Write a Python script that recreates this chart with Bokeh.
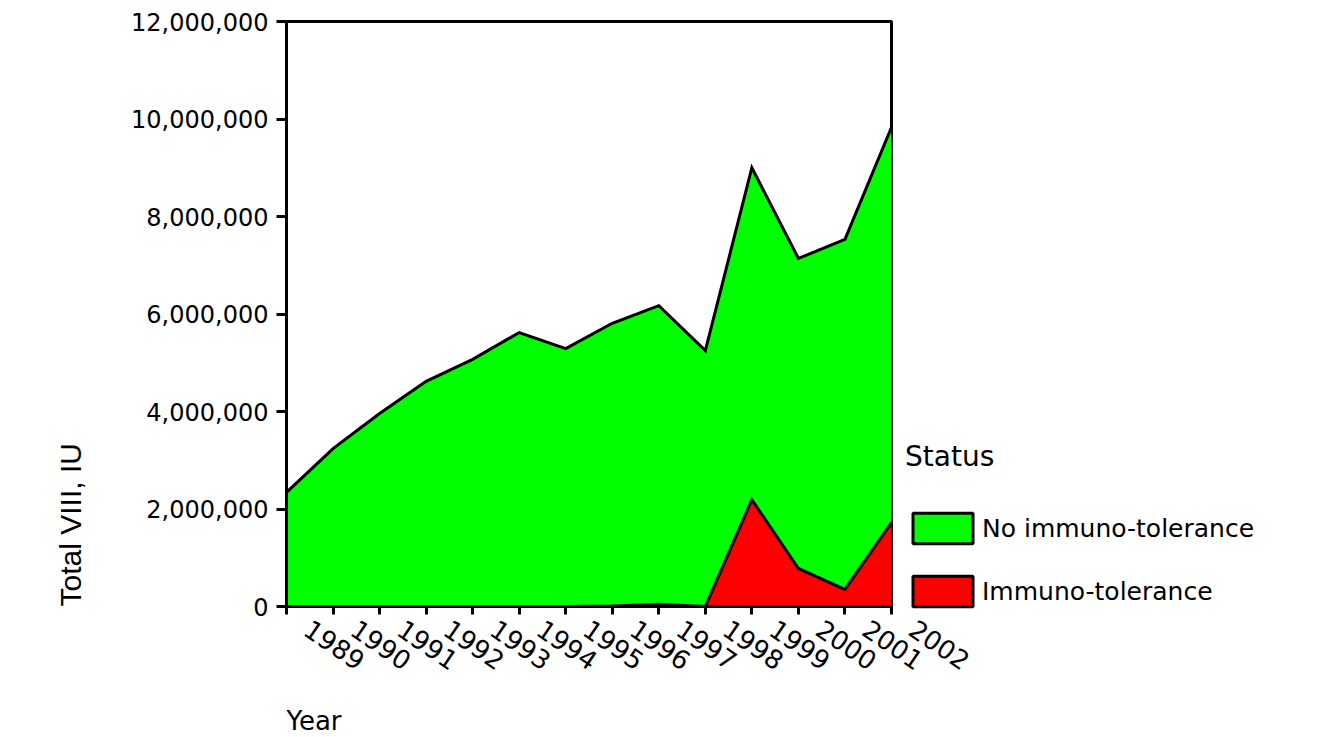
import math
from bokeh.plotting import figure
from bokeh.models import (ColumnDataSource, FixedTicker, NumeralTickFormatter,
                          Legend, LegendItem, Range1d, Title, CustomJSTickFormatter)
from bokeh.transform import stack
from bokeh.embed import file_html
from bokeh.resources import INLINE

# ---- data ----
years = [1989, 1990, 1991, 1992, 1993, 1994, 1995, 1996, 1997, 1998, 1999, 2000, 2001, 2002]
no_immuno = [2340000, 3240000, 3960000, 4620000, 5070000, 5620000, 5290000,
             5800000, 6125000, 5250000, 6810000, 6360000, 7180000, 8110000]
immuno = [0, 0, 0, 0, 0, 0, 0, 10000, 45000, 0, 2190000, 780000, 350000, 1720000]
y_ticks = [0, 2000000, 4000000, 6000000, 8000000, 10000000, 12000000]
series_labels = ["No immuno-tolerance", "Immuno-tolerance"]
legend_title = "Status"
x_title = "Year"
y_title = "Total VIII, IU"

GREEN = "#00FF00"
RED = "#FF0000"
WIDE = "DejaVu Sans"

src = ColumnDataSource(dict(year=years, no_immuno=no_immuno, immuno=immuno))

p = figure(frame_width=605, frame_height=585, output_backend="svg", toolbar_location=None,
           x_range=Range1d(years[0], years[-1]), y_range=Range1d(y_ticks[0], y_ticks[-1]),
           min_border_left=286, min_border_right=0, min_border_top=21, min_border_bottom=0)

p.varea_stack(["immuno", "no_immuno"], x="year", source=src, color=[RED, GREEN])
p.line(x="year", y=stack("immuno", "no_immuno"), source=src, line_color="black",
       line_width=3, line_join="miter")
p.line(x="year", y=stack("immuno"), source=src, line_color="black",
       line_width=3, line_join="miter")

p.xgrid.visible = False
p.ygrid.visible = False
p.outline_line_color = "black"
p.outline_line_width = 3
p.background_fill_color = "white"

for ax in (p.xaxis[0], p.yaxis[0]):
    ax.axis_line_width = 3
    ax.axis_line_color = "black"
    ax.major_tick_line_width = 3
    ax.major_tick_line_color = "black"
    ax.major_tick_in = 0
    ax.minor_tick_line_color = None
    ax.major_label_text_color = "black"
    ax.major_label_text_font = WIDE

p.yaxis.ticker = FixedTicker(ticks=y_ticks)
p.yaxis.formatter = NumeralTickFormatter(format="0,0")
p.yaxis.major_tick_out = 10
p.yaxis.major_label_standoff = 8
p.yaxis.major_label_text_font_size = "24px"

# x axis: rotated year labels that begin a little to the right of their ticks
p.xaxis.ticker = FixedTicker(ticks=years)
p.xaxis.major_tick_out = 8
p.xaxis.major_label_standoff = -2
p.xaxis.major_label_orientation = -0.6
p.xaxis.major_label_text_font_size = "26px"
p.xaxis.formatter = CustomJSTickFormatter(code="return '\\u00a0\\u00a0\\u00a0' + tick.toFixed(0)")

p.add_layout(Title(text=x_title, align="left", text_font=WIDE, text_font_size="26px",
                   text_font_style="normal", text_color="black", standoff=25), "below")
p.add_layout(Title(text=y_title, align="left", vertical_align="top",
                   text_font="Liberation Sans Narrow, Liberation Sans",
                   text_font_size="30px", text_font_style="normal", text_color="black",
                   standoff=80), "left")

# legend with outlined swatches (one off-range box each so the swatches render)
g_sw = p.quad(left=[1980], right=[1981], top=[-2], bottom=[-3], fill_color=GREEN,
              line_color="black", line_width=3)
r_sw = p.quad(left=[1980], right=[1981], top=[-2], bottom=[-3], fill_color=RED,
              line_color="black", line_width=3)
legend = Legend(items=[LegendItem(label=series_labels[0], renderers=[g_sw]),
                       LegendItem(label=series_labels[1], renderers=[r_sw])],
                location=(14, -4), glyph_width=75, glyph_height=38, spacing=25,
                padding=0, margin=0, label_standoff=2, border_line_color=None,
                background_fill_alpha=0, label_text_font=WIDE, label_text_font_size="25px",
                label_text_color="black", title=legend_title, title_text_font=WIDE,
                title_text_font_size="28px", title_text_font_style="normal",
                title_text_color="black", title_standoff=36)
p.add_layout(legend, "right")

open("out.html", "w").write(file_html(p, INLINE))
